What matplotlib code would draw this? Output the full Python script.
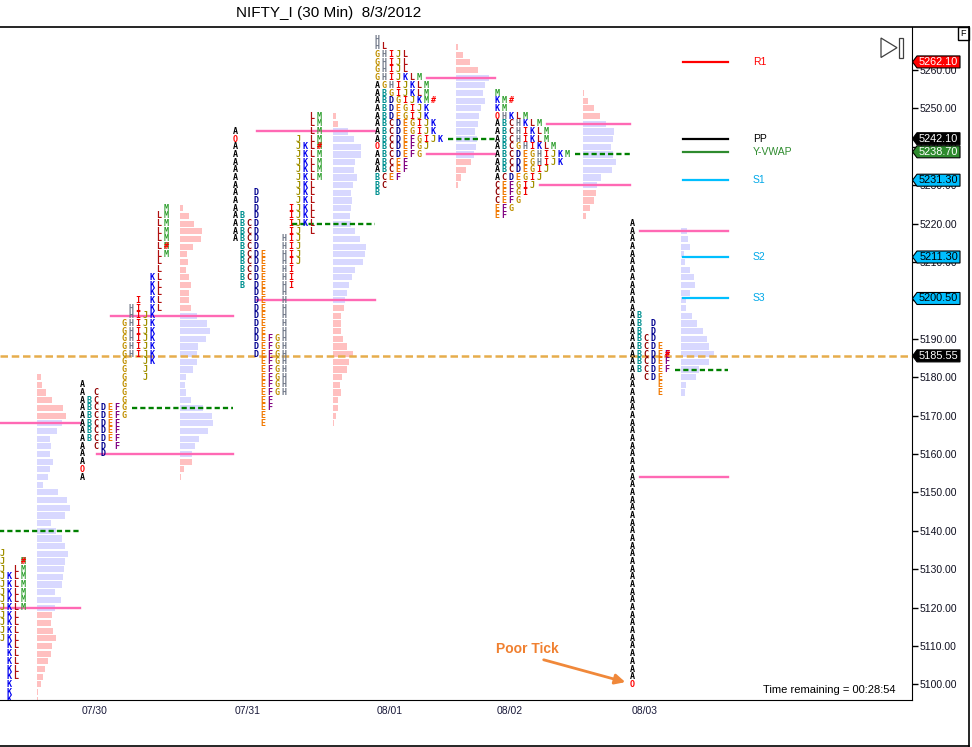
import numpy as np
import matplotlib.pyplot as plt
from matplotlib.patches import Polygon, Rectangle

plt.rcParams['font.family'] = ['Liberation Sans', 'DejaVu Sans']

# ── data ─────────────────────────────────────────────────────────────
periods = 'ABCDEFGHIJKLM'
day_labels = ['07/27', '07/30', '07/31', '08/01', '08/02', '08/03']
split_day = [True, True, True, False, False, True]

# TPO range of every 30 min period: letter -> (low, high)
tpo_0727 = {'J': (5112, 5134), 'K': (5096, 5128), 'L': (5102, 5130), 'M': (5120, 5132)}
tpo_0730 = {'A': (5154, 5178), 'B': (5164, 5174), 'C': (5162, 5176), 'D': (5160, 5172),
            'E': (5164, 5172), 'F': (5162, 5172), 'G': (5170, 5194), 'H': (5186, 5198),
            'I': (5186, 5200), 'J': (5180, 5196), 'K': (5184, 5206), 'L': (5198, 5222),
            'M': (5212, 5224)}
tpo_0731 = {'A': (5216, 5244), 'B': (5204, 5222), 'C': (5206, 5220), 'D': (5186, 5228),
            'E': (5168, 5212), 'F': (5172, 5190), 'G': (5176, 5190), 'H': (5176, 5216),
            'I': (5204, 5224), 'J': (5210, 5242), 'K': (5220, 5240), 'L': (5218, 5248),
            'M': (5232, 5248)}
tpo_0801 = {'A': (5234, 5256), 'B': (5228, 5254), 'C': (5230, 5246), 'D': (5238, 5252),
            'E': (5232, 5250), 'F': (5232, 5242), 'G': (5238, 5264), 'H': (5256, 5268),
            'I': (5242, 5264), 'J': (5240, 5264), 'K': (5242, 5258), 'L': (5254, 5266),
            'M': (5252, 5258)}
tpo_0802 = {'A': (5232, 5248), 'B': (5234, 5246), 'C': (5226, 5246), 'D': (5232, 5238),
            'E': (5222, 5238), 'F': (5222, 5230), 'G': (5224, 5240), 'H': (5236, 5248),
            'I': (5228, 5244), 'J': (5230, 5238), 'K': (5236, 5252), 'L': (5240, 5248),
            'M': (5238, 5254)}
tpo_0803 = {'A': (5100, 5220), 'B': (5182, 5196), 'C': (5180, 5190), 'D': (5180, 5194),
            'E': (5176, 5188), 'F': (5182, 5186)}
tpo_ranges = [tpo_0727, tpo_0730, tpo_0731, tpo_0801, tpo_0802, tpo_0803]

open_price = [None, 5156, 5242, 5240, 5248, 5100]
close_price = [5132, 5214, 5240, 5252, 5252, 5186]
poc = [5140, 5172, 5220, 5242, 5238, 5182]
va_high = [5168, 5196, 5244, 5258, 5246, 5218]
va_low = [5120, 5160, 5200, 5238, 5230, 5154]

# volume at price, listed from the top price downwards
vol_top = [5180, 5224, 5248, 5266, 5254, 5218]
vol_0727 = [4, 5, 9, 15, 26, 29, 25, 20, 13, 14, 13, 16, 13, 11, 6, 21, 30, 33, 28, 14, 19, 25,
            28, 31, 28, 27, 26, 25, 18, 24, 18, 15, 14, 16, 19, 15, 14, 11, 8, 6, 4, 1, 0.7]
vol_0730 = [3, 9, 14, 22, 21, 13, 7, 8, 6, 9, 11, 9, 9, 11, 17, 27, 30, 26, 18, 17, 17, 13,
            6, 5, 6, 11, 23, 32, 33, 28, 19, 15, 12, 12, 4, 1]
vol_0731 = [3, 5, 15, 21, 28, 28, 22, 21, 24, 20, 18, 19, 18, 17, 18, 22, 27, 33, 32, 30, 22,
            19, 16, 14, 12, 11, 8, 8, 8, 10, 14, 20, 16, 14, 9, 7, 8, 5, 5, 3, 1]
vol_0801 = [2, 7, 14, 22, 33, 29, 27, 29, 25, 23, 22, 19, 21, 20, 18, 15, 10, 5, 2]
vol_0802 = [1, 5, 11, 17, 23, 31, 30, 28, 30, 33, 29, 18, 14, 13, 11, 7, 3]
vol_0803 = [6, 7, 9, 3, 4, 9, 13, 14, 9, 5, 5, 11, 16, 22, 26, 28, 33, 28, 18, 15, 5, 4]
volumes = [vol_0727, vol_0730, vol_0731, vol_0801, vol_0802, vol_0803]

level_names = ['R1', 'PP', 'Y-VWAP', 'S1', 'S2', 'S3']
level_values = [5262.10, 5242.10, 5238.70, 5231.30, 5211.30, 5200.50]
last_price = 5185.55

# ── layout / style ───────────────────────────────────────────────────
day_x0 = [-61, 82, 235, 377, 497, 632]   # first letter column of each day (px)
COL = 7          # px per letter column
TICK = 2         # price step of one TPO row
HIST_W = 33      # longest volume bar (px)
PX = 3.84        # px per price point

letter_colors = {'A': '#000000', 'B': '#009090', 'C': '#900000', 'D': '#000090',
                 'E': '#f07800', 'F': '#800080', 'G': '#c09000', 'H': '#707888',
                 'I': '#f00000', 'J': '#a09000', 'K': '#0000f0', 'L': '#b01010',
                 'M': '#30a030'}
level_colors = ['#ff0000', '#000000', '#2e8b2e', '#00bfff', '#00bfff', '#00bfff']
label_colors = ['#ff0000', '#000000', '#2e8b2e', '#00a8e8', '#00a8e8', '#00a8e8']
tag_text = ['white', 'white', 'white', 'black', 'black', 'black']
PINK, LAV = '#ffc0c0', '#d8d8ff'
letter_font = dict(family='DejaVu Sans Mono', fontweight='bold', fontsize=6)

fig = plt.figure(figsize=(9.72, 7.47), dpi=100)
ax = fig.add_axes([0, 47 / 747, 912 / 972, 673 / 747])
ax.set_xlim(0, 912)
ax.set_ylim(5260 - (700 - 70) / PX, 5260 + (70 - 27) / PX)

hist_starts, line_ends = [], []
for d in range(len(day_labels)):
    tpo = tpo_ranges[d]
    x0 = day_x0[d]
    lo = min(r[0] for r in tpo.values())
    hi = max(r[1] for r in tpo.values())
    row_len = {}
    for p in range(lo, hi + 1, TICK):
        row = [L for L in periods if L in tpo and tpo[L][0] <= p <= tpo[L][1]]
        row_len[p] = len(row)
        for k, L in enumerate(row):
            col = periods.index(L) if split_day[d] else k
            ch, c = L, letter_colors[L]
            if L == 'A' and p == open_price[d]:
                ch, c = 'O', '#ff0000'
            ax.text(x0 + COL * col, p, ch, color=c, ha='center', va='center',
                    clip_on=True, zorder=4, **letter_font)
        if p == close_price[d]:
            col = periods.index(max(tpo)) if split_day[d] else len(row)
            ax.text(x0 + COL * col, p, '#', color='#ff0000', ha='center', va='center',
                    clip_on=True, zorder=5, **letter_font)
    ncols = periods.index(max(tpo)) + 1 if split_day[d] else max(row_len.values())
    hx = x0 + COL * (ncols + 1) + (0 if split_day[d] else 2)
    hist_starts.append(hx)

    # volume profile
    vol = np.array(volumes[d], dtype=float)
    prices = vol_top[d] - TICK * np.arange(len(vol))
    cols = [LAV if va_low[d] <= p <= va_high[d] else PINK for p in prices]
    ax.barh(prices, vol / vol.max() * HIST_W, left=hx, height=1.6, color=cols,
            linewidth=0, zorder=2)

    # value area and point of control
    end = day_x0[d + 1] - 2 if d + 1 < len(day_x0) else hx + 47
    line_ends.append(end)
    for p, c, ls in [(va_high[d], '#ff69b4', '-'), (va_low[d], '#ff69b4', '-'),
                     (poc[d], '#008000', (0, (2.2, 1.3)))]:
        start = x0 + COL * row_len.get(p, 0) + 1
        ax.plot([start, end], [p, p], color=c, lw=1.7, ls=ls, zorder=3)

# current price
ax.axhline(last_price, color='#e6ad4c', lw=1.8, ls=(0, (3, 1.5)), zorder=3)

# pivot levels of the running day
for name, v, c, lc in zip(level_names, level_values, level_colors, label_colors):
    ax.plot([hist_starts[-1] + 2, line_ends[-1]], [v, v], color=c, lw=1.6, zorder=3)
    ax.text(753, v, name, color=lc, fontsize=7.5, va='center', ha='left')

# right price axis
for s in ['left', 'top']:
    ax.spines[s].set_visible(False)
ax.yaxis.tick_right()
ticks = np.arange(5100, 5261, 10)
ax.set_yticks(ticks)
ax.set_yticklabels(['%.2f' % t for t in ticks], fontsize=7.5, color='#101020')
ax.tick_params(axis='y', length=4, width=1, pad=1.5)
xt = [(x0 + 13, lab) for x0, lab in zip(day_x0, day_labels) if x0 + 13 > 0]
ax.set_xticks([t[0] for t in xt])
ax.set_xticklabels([t[1] for t in xt], fontsize=7.5, color='#1a1a3a')
ax.tick_params(axis='x', length=0, pad=4)

# price tags on the axis
half = 6 / PX
tags = list(zip(level_values, level_colors, tag_text)) + [(last_price, '#000000', 'white')]
for v, fc, tc in tags:
    ax.add_patch(Polygon([(912.5, v), (917, v + half), (960, v + half), (960, v - half),
                          (917, v - half)], closed=True, facecolor=fc, edgecolor='black',
                         lw=0.8, clip_on=False, zorder=10))
    ax.text(938.5, v, '%.2f' % v, color=tc, fontsize=7.8, ha='center', va='center',
            clip_on=False, zorder=11)

# poor tick note
ax.annotate('', xy=(628, 5100.4), xytext=(541, 5106.6),
            arrowprops=dict(arrowstyle='-|>', color='#f0883a', lw=2, mutation_scale=15))
ax.text(527, 5109.3, 'Poor Tick', color='#f08030', fontsize=10, fontweight='bold',
        ha='center', va='center')

# ── frame, title and decorations (pixel overlay) ─────────────────────
ov = fig.add_axes([0, 0, 1, 1])
ov.set_xlim(0, 972)
ov.set_ylim(747, 0)
ov.axis('off')
ov.patch.set_alpha(0)
ov.plot([0, 968.5], [26.8, 26.8], color='black', lw=1.2)
ov.plot([968.5, 968.5], [26.8, 745.8], color='black', lw=1.2)
ov.plot([0, 968.5], [745.8, 745.8], color='black', lw=1.2)
ov.add_patch(Rectangle((957.5, 27), 11, 13, facecolor='white', edgecolor='black', lw=1))
ov.text(963, 33.5, 'F', fontsize=6.5, ha='center', va='center')
ov.add_patch(Polygon([(881, 38), (881, 57.5), (897, 47.7)], closed=True, fill=False,
                     edgecolor='#404040', lw=0.9))
ov.add_patch(Rectangle((898.5, 38), 4, 19.5, fill=False, edgecolor='#404040', lw=0.9))
ov.text(329, 13, 'NIFTY_I (30 Min)  8/3/2012', fontsize=11, ha='center', va='center')
ov.text(763, 690, 'Time remaining = 00:28:54', fontsize=8, ha='left', va='center')

fig.savefig('out.png', dpi=100)
